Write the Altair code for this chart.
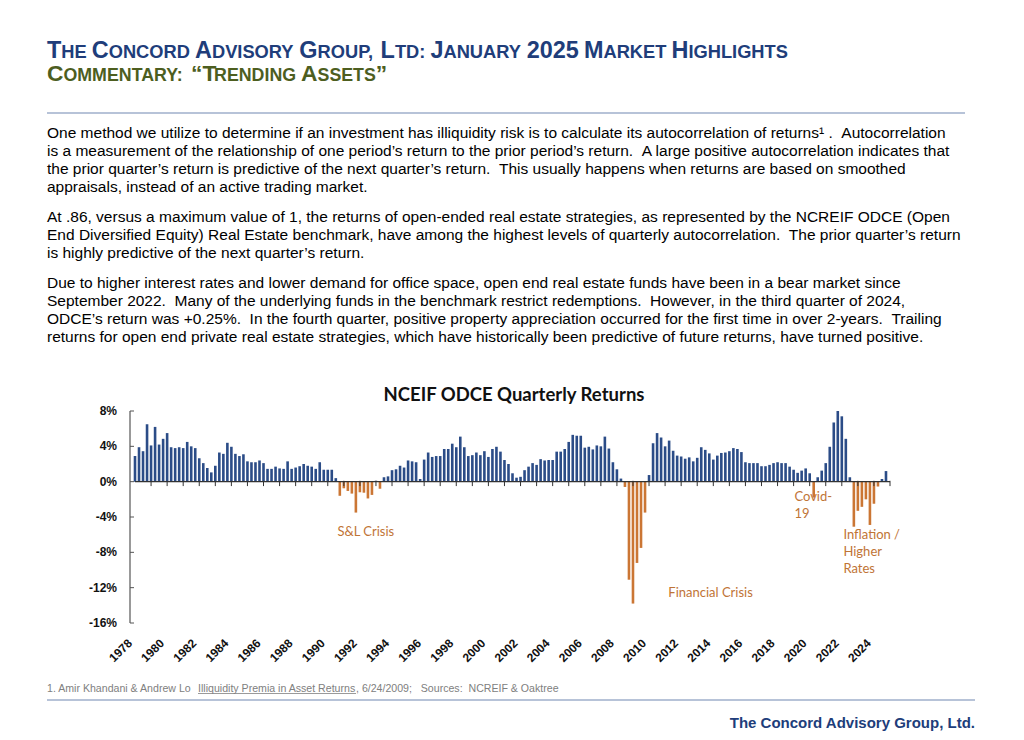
import re
import altair as alt
import pandas as pd

# ---------------- data ----------------
# NCREIF ODCE quarterly returns (%), 1978 Q1 .. 2024 Q4
returns = [
    2.9, 3.9, 3.45, 6.5, 4.1, 6.2, 4.2, 4.85, 5.5, 3.9,
    3.8, 3.9, 3.8, 4.5, 4.0, 3.8, 2.65, 2.1, 1.55, 1.05,
    1.8, 3.3, 3.15, 4.4, 3.95, 3.15, 2.9, 3.1, 2.3, 2.2,
    2.2, 2.4, 2.1, 1.45, 1.45, 1.7, 1.5, 1.45, 2.3, 1.45,
    1.6, 1.75, 2.0, 1.8, 1.7, 1.45, 2.2, 1.35, 1.35, 1.35,
    0.4, -1.6, -0.75, -1.05, -1.35, -3.5, -1.2, -1.25, -1.9, -1.5,
    0.1, -0.8, 0.5, 0.6, 1.3, 1.4, 1.8, 1.6, 2.4, 2.3,
    2.2, 0.3, 2.5, 3.3, 2.8, 2.9, 2.9, 3.7, 3.7, 4.3,
    3.9, 5.1, 3.9, 2.9, 3.0, 3.3, 3.0, 3.45, 2.8, 3.7,
    3.95, 3.4, 2.45, 2.0, 0.95, 0.45, 0.55, 1.3, 1.7, 2.1,
    1.9, 2.55, 2.4, 2.45, 2.45, 3.4, 3.4, 3.7, 4.5, 5.3,
    5.2, 5.2, 3.85, 3.95, 3.65, 4.1, 4.0, 5.1, 3.75, 2.2,
    1.4, 0.35, -0.6, -11.1, -13.8, -9.2, -7.5, -3.5, 0.75, 4.35,
    5.5, 5.0, 4.0, 4.65, 3.5, 2.95, 2.85, 2.6, 2.75, 2.3,
    2.7, 3.9, 3.6, 3.2, 2.5, 2.95, 3.25, 3.3, 3.45, 3.8,
    3.7, 3.35, 2.2, 2.1, 2.1, 2.1, 1.75, 1.75, 1.9, 2.1,
    2.2, 2.1, 2.1, 1.7, 1.35, 1.0, 1.25, 1.5, 0.95, -1.8,
    0.5, 1.25, 2.1, 3.95, 6.7, 8.0, 7.4, 4.85, 0.5, -5.1,
    -3.3, -2.85, -2.0, -4.9, -2.5, -0.55, 0.3, 1.2,
]
first_year = 1978
year_labels = list(range(1978, 2025, 2))
y_ticks = [-16, -12, -8, -4, 0, 4, 8]

title1 = "The Concord Advisory Group, Ltd: January 2025 Market Highlights"
title2 = "Commentary: \u201cTrending Assets\u201d"

para1 = [
    "One method we utilize to determine if an investment has illiquidity risk is to calculate its autocorrelation of returns\u00b9 .  Autocorrelation",
    "is a measurement of the relationship of one period\u2019s return to the prior period\u2019s return.  A large positive autocorrelation indicates that",
    "the prior quarter\u2019s return is predictive of the next quarter\u2019s return.  This usually happens when returns are based on smoothed",
    "appraisals, instead of an active trading market.",
]
para2 = [
    "At .86, versus a maximum value of 1, the returns of open-ended real estate strategies, as represented by the NCREIF ODCE (Open",
    "End Diversified Equity) Real Estate benchmark, have among the highest levels of quarterly autocorrelation.  The prior quarter\u2019s return",
    "is highly predictive of the next quarter\u2019s return.",
]
para3 = [
    "Due to higher interest rates and lower demand for office space, open end real estate funds have been in a bear market since",
    "September 2022.  Many of the underlying funds in the benchmark restrict redemptions.  However, in the third quarter of 2024,",
    "ODCE\u2019s return was +0.25%.  In the fourth quarter, positive property appreciation occurred for the first time in over 2-years.  Trailing",
    "returns for open end private real estate strategies, which have historically been predictive of future returns, have turned positive.",
]

chart_title = "NCEIF ODCE Quarterly Returns"
ann_sl = "S&L Crisis"
ann_fc = "Financial Crisis"
ann_covid = "Covid-\n19"
ann_infl = "Inflation /\nHigher\nRates"

foot_a = "1. Amir Khandani & Andrew Lo"
foot_b = "Illiquidity Premia in Asset Returns"
foot_c = ", 6/24/2009;   Sources:  NCREIF & Oaktree"
footer = "The Concord Advisory Group, Ltd."

# ---------------- styling ----------------
W, H = 1008, 724
BLUE = "#2B4C87"
ORANGE = "#CB7634"
NAVY = "#203D7A"
OLIVE = "#4D5E1F"
ANNOT = "#BF7436"
RULE = "#9FAFCB"
BODY = "Liberation Sans"
CAL = "Lato"
PARA_SIZE = 15.5


def nb(s):
    # keep runs of spaces visible in SVG text
    return re.sub(r" {2,}", lambda m: " " + "\u00a0" * (len(m.group()) - 1), s)


# Helvetica/Arial bold advance widths (per 1000 em) for small-caps layout
HB = dict(zip("ABCDEFGHIJKLMNOPQRSTUVWXYZ",
              [722, 722, 722, 722, 667, 611, 778, 722, 278, 556, 722, 611, 833,
               722, 778, 667, 778, 722, 667, 611, 722, 667, 944, 667, 667, 611]))
HB.update({d: 556 for d in "0123456789"})
HB.update({" ": 278, ",": 278, ":": 333, ".": 278, "\u201c": 400, "\u201d": 400})


def runs_of(text):
    runs = []
    for ch in text:
        big = ch.isupper() or ch.isdigit() or ch in "\u201c\u201d"
        if runs and runs[-1][1] == big:
            runs[-1][0] += ch.upper()
        else:
            runs.append([ch.upper(), big])
    return runs


def units(runs, ratio):
    b = sum(sum(HB[c] for c in s) for s, big in runs if big) / 1000
    s_ = sum(sum(HB[c] for c in s) for s, big in runs if not big) / 1000
    return b + ratio * s_


RATIO = 0.78


def smallcaps_df(text, x0, target_width):
    runs = runs_of(text)
    big_fs = target_width / units(runs, RATIO)
    rows, x = [], x0
    for s, big in runs:
        fs = big_fs if big else big_fs * RATIO
        rows.append({"t": s, "x": x, "fs": fs})
        x += sum(HB[c] for c in s) * fs / 1000
    return pd.DataFrame(rows)


def title_layer(text, y, color, target_width):
    return alt.Chart(smallcaps_df(text, 39, target_width)).mark_text(
        align="left", baseline="alphabetic", font=BODY, fontWeight="bold", color=color
    ).encode(
        x=alt.X("x:Q", scale=None, axis=None),
        y=alt.value(y),
        text="t:N",
        size=alt.Size("fs:Q", scale=None, legend=None),
    )


one = pd.DataFrame({"d": [0]})


def text_block(text, x, y, size=PARA_SIZE, color="#000000", weight="normal", align="left",
               font=BODY, line_height=18):
    return alt.Chart(one).mark_text(
        align=align, baseline="alphabetic", font=font, fontSize=size, fontWeight=weight,
        color=color, lineBreak="\n", lineHeight=line_height
    ).encode(x=alt.value(x), y=alt.value(y), text=alt.value(text))


def hrule(x1, x2, y, color=RULE, width=1.5):
    return alt.Chart(one).mark_rule(color=color, strokeWidth=width).encode(
        x=alt.value(x1), x2=alt.value(x2), y=alt.value(y))


# ---------------- chart scales ----------------
n = len(returns)
df = pd.DataFrame({"q": list(range(1, n + 1)), "v": returns})
xs = alt.Scale(domain=[1, n + 1], range=[122, 887], nice=False, zero=False)
ys = alt.Scale(domain=[-16, 8], range=[615, 403], nice=False, zero=False)

bars = alt.Chart(df).transform_calculate(z="0").mark_bar(size=2.6).encode(
    x=alt.X("q:Q", scale=xs, axis=None),
    y=alt.Y("v:Q", scale=ys, axis=None),
    y2="z:Q",
    color=alt.condition("datum.v >= 0", alt.value(BLUE), alt.value(ORANGE)),
)

# axis line, zero line and tick marks
y_axis_line = alt.Chart(one).mark_rule(color="#555555", strokeWidth=1.2).encode(
    x=alt.value(122), y=alt.YDatum(8, scale=ys, axis=None), y2=alt.Y2Datum(-16))

zero_line = alt.Chart(one).mark_rule(color="#333333", strokeWidth=1.3).encode(
    x=alt.XDatum(1, scale=xs, axis=None), x2=alt.X2Datum(n + 1),
    y=alt.YDatum(0, scale=ys, axis=None))

xt = pd.DataFrame({"q": [1 + 4 * k for k in range(1, n // 4 + 1)]})
x_ticks = alt.Chart(xt).mark_rule(color="#333333", strokeWidth=1).encode(
    x=alt.X("q:Q", scale=xs, axis=None),
    y=alt.YDatum(0.1, scale=ys, axis=None), y2=alt.Y2Datum(-0.5))

yt = pd.DataFrame({"t": y_ticks})
y_tick_marks = alt.Chart(yt).mark_rule(color="#555555", strokeWidth=1).encode(
    y=alt.Y("t:Q", scale=ys, axis=None), x=alt.value(122), x2=alt.value(126))

y_labels = alt.Chart(yt).transform_calculate(lab="datum.t + '%'").mark_text(
    align="right", baseline="middle", font=BODY, fontWeight="bold", fontSize=12,
    color="#111111"
).encode(y=alt.Y("t:Q", scale=ys, axis=None), x=alt.value(109), text="lab:N")

yl = pd.DataFrame({"year": year_labels})
x_labels = alt.Chart(yl).transform_calculate(
    q="1 + (datum.year - %d) * 4" % first_year
).mark_text(
    align="right", baseline="middle", angle=315, font=BODY, fontWeight="bold",
    fontSize=12, color="#111111", dx=-5, dy=-2
).encode(x=alt.X("q:Q", scale=xs, axis=None), y=alt.value(631),
         text=alt.Text("year:Q", format="d"))


def annot(text, q, v):
    return alt.Chart(one).mark_text(
        align="left", baseline="alphabetic", font=CAL, fontSize=13, color=ANNOT,
        lineBreak="\n", lineHeight=17
    ).encode(x=alt.XDatum(q, scale=xs, axis=None), y=alt.YDatum(v, scale=ys, axis=None),
             text=alt.value(text))


layers = [
    title_layer(title1, 49.5, NAVY, 741),
    title_layer(title2, 73, OLIVE, 338),
    hrule(39, 957, 105),
    text_block(nb("\n".join(para1)), 39, 130),
    text_block(nb("\n".join(para2)), 39, 214),
    text_block(nb("\n".join(para3)), 39, 280),
    text_block(chart_title, 506, 393, size=18.5, weight="bold", align="center", font=CAL,
               color="#111111"),
    bars,
    zero_line,
    x_ticks,
    y_axis_line,
    y_tick_marks,
    y_labels,
    x_labels,
    annot(ann_sl, 51.4, -6.2),
    annot(ann_fc, 133.8, -13.0),
    annot(ann_covid, 165.2, -2.24),
    annot(ann_infl, 177.4, -6.54),
    text_block(foot_a, 39, 683.5, size=10.6, color="#808080"),
    text_block(foot_b, 190, 683.5, size=10.6, color="#808080"),
    text_block(nb(foot_c), 348, 683.5, size=10.6, color="#808080"),
    hrule(190, 348, 685.5, color="#808080", width=0.8),
    hrule(39, 967, 692),
    text_block(footer, 967, 719.5, size=15, weight="bold", align="right", color=NAVY),
]

chart = alt.layer(*layers).properties(
    width=W, height=H, padding=0, background="white",
    autosize=alt.AutoSizeParams(type="none"),
).configure_view(stroke=None)

chart.save("out.html", embed_options={"renderer": "svg", "actions": False})
